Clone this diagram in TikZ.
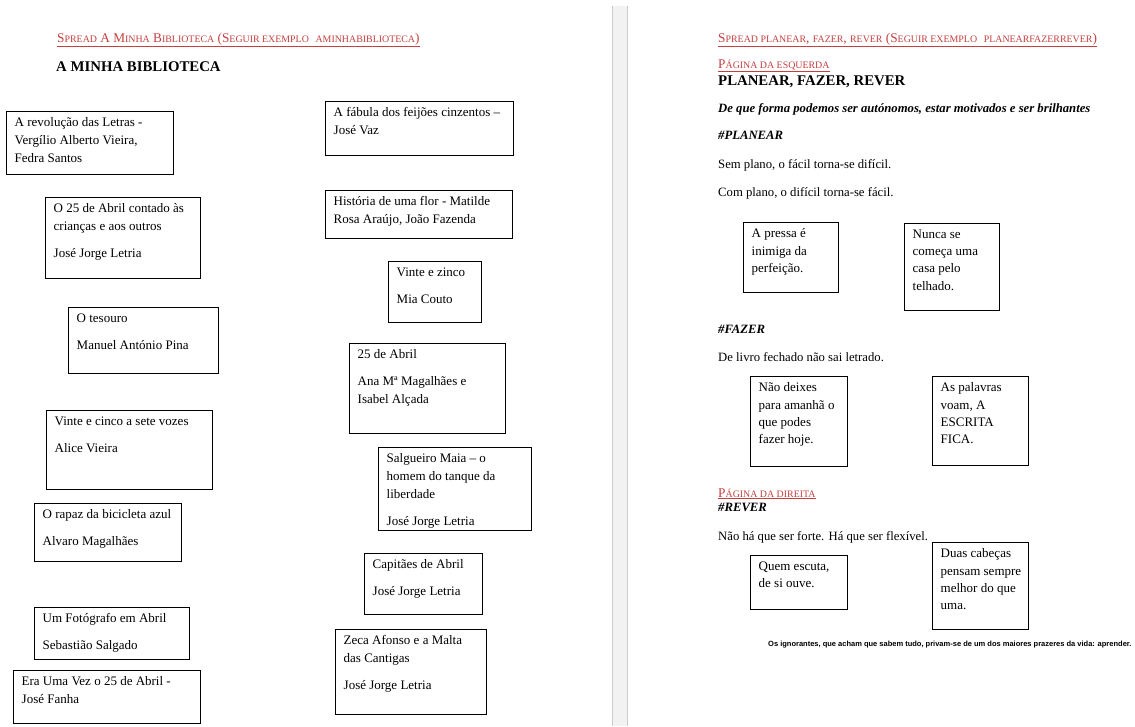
\documentclass[tikz,border=0pt]{standalone}
\usepackage{fontspec}
\setmainfont{Liberation Serif}
\newfontfamily\footfont{Liberation Sans}
\definecolor{hdred}{RGB}{196,64,64}
\definecolor{gutter}{RGB}{242,242,242}
\definecolor{gutteredge}{RGB}{205,205,205}
\newcommand\sm[1]{{\fontsize{9.9}{12}\selectfont #1}}
\newcommand\smb[1]{{\fontsize{9.9}{12}\selectfont #1}}
\tikzset{
  bookbox/.style={draw, line width=0.8pt, inner sep=0pt, anchor=north west},
  boxtext/.style={anchor=north west, inner sep=0pt, align=left, font=\fontsize{13}{18}\selectfont},
  boxtextr/.style={anchor=north west, inner sep=0pt, align=left, font=\fontsize{13}{17.3}\selectfont},
  body/.style={anchor=base west, inner sep=0pt, font=\fontsize{12.7}{15}\selectfont},
  bodybi/.style={body, font=\fontsize{12.7}{15}\selectfont\bfseries\itshape},
  hdr/.style={anchor=base west, inner sep=0pt, text=hdred, font=\fontsize{13.3}{15}\selectfont},
  subhdr/.style={anchor=base west, inner sep=0pt, text=hdred, font=\fontsize{13.3}{15}\selectfont},
  ttl/.style={anchor=base west, inner sep=0pt, font=\fontsize{14.8}{17}\selectfont\bfseries},
  foot/.style={anchor=base west, inner sep=0pt, font=\footfont\bfseries\fontsize{7.5}{9}\selectfont},
}
\newcommand\bk[7][boxtext]{%
  \node[bookbox, minimum width=#5-#3, minimum height=#6-#4] (#2) at (#3,#4) {};
  \node[#1] (#2t) at ([xshift=8.5pt,yshift=-6.5pt]#2.north west) {#7};
}
\begin{document}
\begin{tikzpicture}[x=1pt,y=-1pt]
\useasboundingbox (0,0) rectangle (1135,726);
\fill[white] (0,0) rectangle (1135,726);
% gutter
\fill[gutter] (612,6) rectangle (628,726);
\draw[gutteredge, line width=1.2pt] (612.5,6) -- (612.5,726);
\draw[gutteredge, line width=1.2pt] (627.5,6) -- (627.5,726);

% ---------------- left page
\node[hdr] (lhdr) at (57,42) {\underline{S\sm{PREAD} A M\sm{INHA} B\sm{IBLIOTECA} (S\sm{EGUIR EXEMPLO}\ \ \sm{AMINHABIBLIOTECA})}};
\node[ttl] (lttl) at (56,71) {A MINHA BIBLIOTECA};

\bk{b1}{6}{111}{173}{174}{A revolução das Letras -\\Vergílio Alberto Vieira,\\Fedra Santos}
\bk{b2}{325}{101}{513}{155}{A fábula dos feijões cinzentos –\\José Vaz}
\bk{b3}{45}{197}{200}{278}{O 25 de Abril contado às\\crianças e aos outros\\[9pt]José Jorge Letria}
\bk{b4}{325}{190}{512}{238}{História de uma flor - Matilde\\Rosa Araújo, João Fazenda}
\bk{b5}{388}{261}{481}{322}{Vinte e zinco\\[9pt]Mia Couto}
\bk{b6}{68}{307}{218}{373}{O tesouro\\[9pt]Manuel António Pina}
\bk{b7}{349}{343}{505}{433}{25 de Abril\\[9pt]Ana Mª Magalhães e\\Isabel Alçada}
\bk{b8}{46}{410}{212}{489}{Vinte e cinco a sete vozes\\[9pt]Alice Vieira}
\bk{b9}{378}{447}{531}{530}{Salgueiro Maia – o\\homem do tanque da\\liberdade\\[9pt]José Jorge Letria}
\bk{b10}{34}{503}{181}{561}{O rapaz da bicicleta azul\\[9pt]Alvaro Magalhães}
\bk{b11}{364}{553}{482}{614}{Capitães de Abril\\[9pt]José Jorge Letria}
\bk{b12}{34}{607}{189}{659}{Um Fotógrafo em Abril\\[9pt]Sebastião Salgado}
\bk{b13}{335}{629}{486}{714}{Zeca Afonso e a Malta\\das Cantigas\\[9pt]José Jorge Letria}
\bk{b14}{13}{670}{200}{723}{Era Uma Vez o 25 de Abril -\\José Fanha}

% ---------------- right page
\node[hdr] (rhdr) at (718,42) {\underline{S\sm{PREAD PLANEAR}, \sm{FAZER}, \sm{REVER} (S\sm{EGUIR EXEMPLO}\ \ \sm{PLANEARFAZERREVER})}};
\node[subhdr] (pesq) at (718,68) {\underline{P\smb{ÁGINA DA ESQUERDA}}};
\node[ttl] (rttl) at (718,85) {PLANEAR, FAZER, REVER};
\node[bodybi] (q) at (718,112) {De que forma podemos ser autónomos, estar motivados e ser brilhantes};
\node[bodybi] (plan) at (718,139) {\#PLANEAR};
\node[body] (s1) at (718,168) {Sem plano, o fácil torna-se difícil.};
\node[body] (s2) at (718,196) {Com plano, o difícil torna-se fácil.};
\bk[boxtextr]{p1}{743}{222}{838}{292}{A pressa é\\inimiga da\\perfeição.}
\bk[boxtextr]{p2}{904}{223}{999}{310}{Nunca se\\começa uma\\casa pelo\\telhado.}
\node[bodybi] (faz) at (718,333) {\#FAZER};
\node[body] (s3) at (718,361) {De livro fechado não sai letrado.};
\bk[boxtextr]{f1}{750}{376}{847}{466}{Não deixes\\para amanhã o\\que podes\\fazer hoje.}
\bk[boxtextr]{f2}{932}{376}{1028}{465}{As palavras\\voam, A\\ESCRITA\\FICA.}
\node[subhdr] (pdir) at (718,497) {\underline{P\smb{ÁGINA DA DIREITA}}};
\node[bodybi] (rev) at (718,511) {\#REVER};
\node[body] (s4) at (718,540) {Não há que ser forte. Há que ser flexível.};
\bk[boxtextr]{r1}{750}{555}{847}{609}{Quem escuta,\\de si ouve.}
\bk[boxtextr]{r2}{932}{542}{1028}{629}{Duas cabeças\\pensam sempre\\melhor do que\\uma.}
\node[foot] (ft) at (768,646) {Os ignorantes, que acham que sabem tudo, privam-se de um dos maiores prazeres da vida: aprender.};
\end{tikzpicture}
\end{document}
